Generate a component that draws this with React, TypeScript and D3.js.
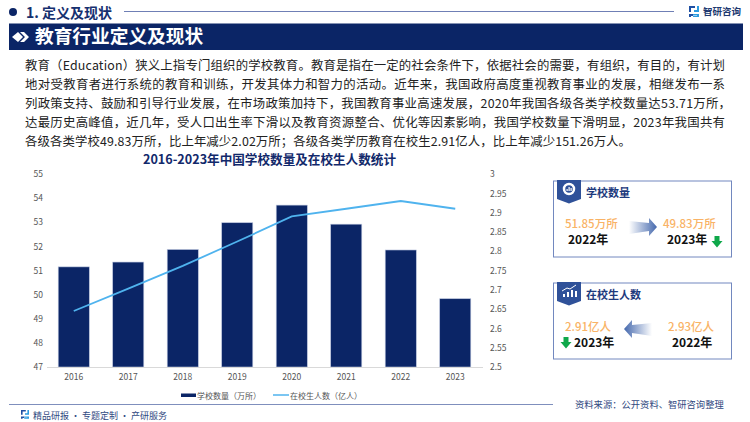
import { useEffect, useRef } from "react";
import * as d3 from "d3";

const years = ["2016", "2017", "2018", "2019", "2020", "2021", "2022", "2023"];
const schools = [51.15, 51.35, 51.87, 52.98, 53.71, 52.92, 51.85, 49.83];
const students = [2.645, 2.703, 2.762, 2.825, 2.89, 2.91, 2.93, 2.91];
const leftTicks = [47, 48, 49, 50, 51, 52, 53, 54, 55];
const rightTicks = [2.5, 2.55, 2.6, 2.65, 2.7, 2.75, 2.8, 2.85, 2.9, 2.95, 3];
const bodyLines = [
  "教育（Education）狭义上指专门组织的学校教育。教育是指在一定的社会条件下，依据社会的需要，有组织，有目的，有计划",
  "地对受教育者进行系统的教育和训练，开发其体力和智力的活动。近年来，我国政府高度重视教育事业的发展，相继发布一系",
  "列政策支持、鼓励和引导行业发展，在市场政策加持下，我国教育事业高速发展，2020年我国各级各类学校数量达53.71万所，",
  "达最历史高峰值，近几年，受人口出生率下滑以及教育资源整合、优化等因素影响，我国学校数量下滑明显，2023年我国共有",
  "各级各类学校49.83万所，比上年减少2.02万所；各级各类学历教育在校生2.91亿人，比上年减少151.26万人。",
];
const bodyWidths = [700, 700, 706, 700, 606];

const NAVY = "#0b2566";
const FONT = "'Noto Sans CJK SC', 'Noto Sans', sans-serif";

export default function App() {
  const ref = useRef<SVGSVGElement>(null);

  useEffect(() => {
    if (!ref.current) return;
    const svg = d3.select(ref.current);
    svg.selectAll("*").remove();

    const text = (x: number, y: number, s: string, size: number, fill: string, weight = 400, anchor = "start") =>
      svg
        .append("text")
        .attr("x", x)
        .attr("y", y)
        .attr("font-size", size)
        .attr("fill", fill)
        .attr("font-weight", weight)
        .attr("text-anchor", anchor)
        .text(s);

    // Header
    svg.append("circle").attr("cx", 13).attr("cy", 12).attr("r", 4).attr("fill", NAVY);
    text(26, 18, "1. 定义及现状", 14, "#16306f", 700);
    svg.append("line").attr("x1", 124).attr("x2", 674).attr("y1", 11.5).attr("y2", 11.5).attr("stroke", "#6f7fb5");
    svg.append("rect").attr("x", 9).attr("y", 23.5).attr("width", 734).attr("height", 26.5).attr("fill", NAVY);
    svg.append("path").attr("d", "M12 37l6-5 5 5-5 5z").attr("fill", "#fff");
    svg.append("path").attr("d", "M20 32h4l5 5-5 5h-4l5-5z").attr("fill", "#fff");
    text(35, 43, "教育行业定义及现状", 18.7, "#fff", 700);

    // Logo, top right
    const logo = (x: number, y: number, s: number) => {
      const g = svg.append("g").attr("transform", `translate(${x},${y}) scale(${s})`);
      g.append("path").attr("d", "M0 0h6v2H2v4H0z M0 8h4v2H2v1H0z").attr("fill", "#1f4fa3");
      g.append("path").attr("d", "M8 0h2v6H5V4h3z M4 8h6v3H4V9.5h4V9H4z").attr("fill", "#2b9be0");
    };
    logo(689, 6, 1);
    text(703, 15, "智研咨询", 9.5, "#20386f", 700);

    // Body paragraph
    bodyLines.forEach((line, i) => {
      text(25, 70 + i * 19, line, 12.4, "#222")
        .attr("textLength", bodyWidths[i])
        .attr("lengthAdjust", "spacing");
    });

    text(269.5, 163.5, "2016-2023年中国学校数量及在校生人数统计", 12.6, "#12296b", 700).attr("text-anchor", "middle");

    // Chart
    const x = d3.scaleBand().domain(years).range([46.5, 482.5]).paddingInner(0.43).paddingOuter(0.215);
    const yL = d3.scaleLinear().domain([47, 55]).range([367, 174]);
    const yR = d3.scaleLinear().domain([2.5, 3]).range([367, 174]);

    svg
      .append("g")
      .selectAll("rect")
      .data(schools)
      .join("rect")
      .attr("x", (_, i) => x(years[i])!)
      .attr("y", (d) => yL(d))
      .attr("width", x.bandwidth())
      .attr("height", (d) => yL(47) - yL(d))
      .attr("fill", NAVY)
      .attr("stroke", "#b9c3dc")
      .attr("stroke-width", 0.6);

    const line = d3
      .line<number>()
      .x((_, i) => x(years[i])! + x.bandwidth() / 2)
      .y((d) => yR(d));
    svg.append("path").attr("d", line(students)).attr("fill", "none").attr("stroke", "#4fb3ee").attr("stroke-width", 1.8);

    const bottom = svg
      .append("g")
      .attr("transform", "translate(0,367)")
      .call(d3.axisBottom(x).tickSize(0).tickPadding(7));
    bottom.select(".domain").attr("stroke", "#d9d9d9");
    bottom.selectAll("text").attr("fill", "#555").attr("font-size", 8.5);

    const left = svg
      .append("g")
      .attr("transform", "translate(45,0)")
      .call(d3.axisLeft(yL).tickValues(leftTicks).tickSize(0).tickPadding(2));
    left.select(".domain").remove();
    left.selectAll("text").attr("fill", "#555").attr("font-size", 8.5);

    const right = svg
      .append("g")
      .attr("transform", "translate(490,0)")
      .call(d3.axisRight(yR).tickValues(rightTicks).tickFormat((d) => String(d)).tickSize(0).tickPadding(0));
    right.select(".domain").remove();
    right.selectAll("text").attr("fill", "#555").attr("font-size", 8.5);
    right.selectAll("text").attr("dy", "0.32em");
    svg.selectAll("g text").attr("font-family", FONT);

    // Legend
    svg.append("rect").attr("x", 181).attr("y", 393.5).attr("width", 15).attr("height", 3.5).attr("fill", NAVY);
    text(197, 398.5, "学校数量（万所）", 8, "#555");
    svg.append("line").attr("x1", 273).attr("x2", 289).attr("y1", 395).attr("y2", 395).attr("stroke", "#4fb3ee").attr("stroke-width", 1.5);
    text(290, 398.5, "在校生人数（亿人）", 8, "#555");

    // Footer
    svg.append("line").attr("x1", 9).attr("x2", 553).attr("y1", 404.5).attr("y2", 404.5).attr("stroke", "#7f8fbd");
    logo(21, 410, 0.8);
    text(33, 419, "精品研报 · 专题定制 · 产研服务", 9, "#31497f");
    text(575, 408, "资料来源：公开资料、智研咨询整理", 9.3, "#31497f");

    // Side panels
    const defs = svg.append("defs");
    const grad = (id: string, x1: number, x2: number) => {
      const g = defs.append("linearGradient").attr("id", id).attr("x1", x1).attr("x2", x2).attr("y1", 0).attr("y2", 0);
      g.append("stop").attr("offset", "0").attr("stop-color", "#fff");
      g.append("stop").attr("offset", "1").attr("stop-color", "#4468ad");
    };
    grad("arrowR", 0, 1);
    grad("arrowL", 1, 0);

    const panel = (top: number, title: string) => {
      svg.append("rect").attr("x", 553.5).attr("y", top).attr("width", 178).attr("height", 76).attr("fill", "#fff").attr("stroke", "#7288bf");
      svg
        .append("path")
        .attr("d", `M557 ${top - 1}h24v19l-12 4.5l-12-4.5z`)
        .attr("fill", "#2f5199");
      text(586, top + 16, title, 11, "#1d3a7d", 700);
    };

    const downArrow = (cx: number, top: number) =>
      svg
        .append("path")
        .attr("d", `M${cx - 2.5} ${top}h5v5h3l-5.5 6.5l-5.5-6.5h3z`)
        .attr("fill", "#0fa84a");

    panel(181, "学校数量");
    svg.append("circle").attr("cx", 569).attr("cy", 189).attr("r", 5).attr("fill", "none").attr("stroke", "#fff").attr("stroke-width", 2.5);
    svg.append("path").attr("d", "M566.5 191v-2h1.2v2z M568.5 191v-4h1.2v4z M570.5 191v-3h1.2v3z").attr("fill", "#fff");
    text(565, 228, "51.85万所", 11.5, "#f9b366", 500);
    text(568, 244, "2022年", 12, "#111", 700);
    svg.append("path").attr("d", "M629 221l20 2v-5l8 9l-8 9v-5l-20 3z").attr("fill", "url(#arrowR)");
    text(663, 228, "49.83万所", 11.5, "#f9b366", 500);
    text(667, 244, "2023年", 12, "#111", 700);
    downArrow(717, 236);

    panel(283, "在校生人数");
    svg.append("path").attr("d", "M563 297v-3h2v3z M567 297v-5h2v5z M571 297v-7h2v7z M575 297v-6h2v6z").attr("fill", "#fff");
    svg.append("path").attr("d", "M562 291l5-3 3 1 6-4").attr("fill", "none").attr("stroke", "#fff").attr("stroke-width", 1);
    text(565, 330.5, "2.91亿人", 11.5, "#f9b366", 500);
    text(574, 347, "2023年", 12, "#111", 700);
    downArrow(566, 337);
    svg.append("path").attr("d", "M652 323l-20 2v-5l-8 9l8 9v-5l20 3z").attr("fill", "url(#arrowL)");
    text(668, 330.5, "2.93亿人", 11.5, "#f9b366", 500);
    text(672, 347, "2022年", 12, "#111", 700);
  }, []);

  return (
    <svg
      ref={ref}
      width={750}
      height={422}
      style={{ position: "absolute", left: 0, top: 0, background: "#fff", fontFamily: FONT }}
    />
  );
}
